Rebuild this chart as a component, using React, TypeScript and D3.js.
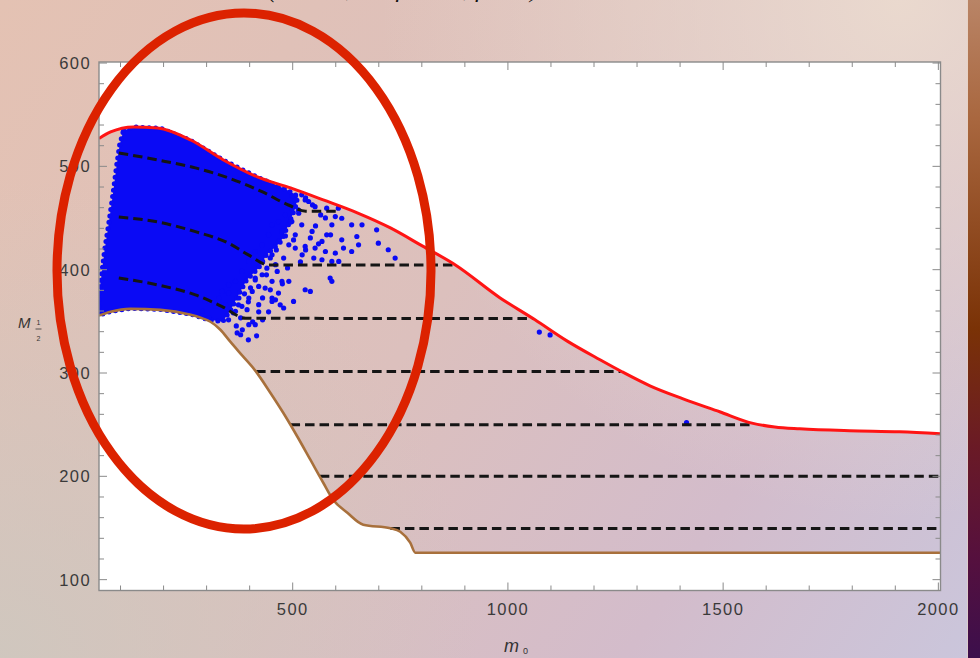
import React from "react";
import * as d3 from "d3";

const WIDTH = 980;
const HEIGHT = 658;

// axis ticks
const xTickLabels = [500, 1000, 1500, 2000];
const yTickLabels = [100, 200, 300, 400, 500, 600];

// upper edge of the allowed (m0, M1/2) region
const upperBoundary: [number, number][] = [
  [50, 527], [77, 533.3], [130, 538.2], [186, 537.1], [263, 525.5], [339, 506.2],
  [418, 489.8], [495, 479.1], [571, 467.5], [650, 455], [727, 440.4], [801, 423],
  [878, 404.6], [982, 372.7], [1063, 351.5], [1137, 331.1], [1214, 312.8],
  [1265, 301.2], [1330, 287.6], [1407, 275], [1492, 262.5], [1567, 251.5],
  [1620, 247.8], [1678, 246], [1794, 244.1], [1910, 243.1], [2005, 241.2],
];

// lower edge of the allowed region
const lowerBoundary: [number, number][] = [
  [50, 355.5], [77, 359.2], [123, 362.1], [193, 361.1], [263, 356.3], [286, 353.5],
  [309, 349.6], [332, 341.9], [355, 330.3], [383, 316.8], [413, 302.3], [448, 280.9],
  [478, 261.5], [511, 238.3], [541, 216.1], [571, 193.8], [594, 177.4], [627, 164.8],
  [664, 153.2], [727, 149.8], [750, 146.4], [773, 135.8], [785, 126], [800, 126],
  [2005, 126],
];

// curved contours in the low-m0 corner
const contourTop: [number, number][] = [
  [96, 513], [186, 506.2], [274, 498.5], [351, 488.8], [430, 475.2], [490, 462.6],
  [530, 456.6], [570, 456.6], [606, 456.6],
];
const contourMid: [number, number][] = [
  [96, 451], [186, 446.2], [274, 436.8], [351, 425.6], [397, 414.3], [444, 404.6],
  [877, 404.6],
];
const contourLow: [number, number][] = [
  [96, 392], [186, 385.3], [274, 375.6], [336, 364.3], [391, 353], [1058, 352.7],
];

// straight contours
const flatLevels = [301.5, 250, 200, 149.5];
const flatStarts = [415, 495, 563, 727];
const flatEnds = [1262, 1568, 2005, 2005];

// densely populated part of the scan
const denseCore: [number, number][] = [
  [107, 535], [135, 538], [193, 537], [263, 525], [339, 506], [418, 489.5], [483, 478],
  [512, 471], [506, 459.8], [490, 443.3], [472, 426.9], [439, 414.3], [421, 401.7],
  [393, 390.1], [374, 375.6], [356, 361.1], [337, 349.5], [300, 352], [263, 357],
  [193, 361.5], [123, 362.5], [77, 359.5], [50, 356], [50, 376], [56, 395], [63, 419],
  [72, 443], [82, 472], [91, 501], [98, 521],
];

// individual scan points outside the dense core
const scanX = [
  529, 552, 579, 606, 599, 614, 637, 661, 695, 722, 699, 649, 653, 637, 614, 591, 579,
  568, 545, 521, 506, 529, 552, 576, 599, 618, 591, 607, 568, 549, 522, 506, 491, 475,
  498, 467, 479, 460, 452, 440, 464, 429, 413, 452, 475, 491, 467, 452, 436, 421, 406,
  398, 375, 382, 367, 394, 421, 452, 479, 502, 529, 541, 587, 591, 413, 371, 398, 738,
  290, 305, 320, 328, 344, 351, 297, 521, 537, 506, 498, 514, 483, 467, 452, 444, 429,
  413, 398, 382, 367, 351, 336,
  499, 513, 495, 483, 502, 462, 448, 430, 439, 413, 402, 388, 397, 374, 362, 379, 351,
  369, 383, 407, 421, 430, 448, 460, 476, 488, 518, 530, 541, 553, 565, 530, 546, 576,
  560, 588, 430, 444, 471, 416, 397, 379,
  1073, 1098, 1415,
];
const scanY = [
  467.5, 461, 459.5, 459.5, 451.4, 449.8, 443.4, 443.4, 438.6, 419.3, 425.7, 432.1,
  424.1, 417.6, 428.9, 443.4, 433.7, 427.3, 437, 443.4, 433.7, 422.5, 420.9, 417.6, 416,
  420.9, 408, 408, 409.6, 411.2, 414.4, 420.9, 424.1, 437, 446.6, 427.3, 411.2, 404.8,
  414.4, 401.5, 398.3, 395.1, 391.9, 388.7, 388.7, 388.7, 377.4, 372.6, 382.2, 383.8,
  379, 372.6, 372.6, 364.5, 359.7, 361.3, 366.1, 369.3, 362.9, 369.3, 380.6, 379, 391.9,
  388.7, 346.8, 338.8, 346.8, 411.2, 359.7, 353.2, 364.5, 372.6, 366, 377.4, 369.3,
  472.4, 466, 467.5, 459.5, 454.7, 453, 446.6, 443.4, 433.7, 424, 417.6, 408, 398.3,
  388.7, 385.4, 379,
  471.4, 457.8, 446.2, 432.7, 428.8, 419.1, 411.4, 407.5, 395, 390.1, 382.4, 376.6,
  368.9, 366, 358.2, 353.4, 351.5, 345.6, 341.8, 349.5, 359.2, 372.7, 380.5, 370.8,
  386.3, 401.7, 407.5, 419.1, 430.7, 442.3, 453, 469.4, 462.7, 450.1, 425, 433.7,
  351.5, 359.2, 366, 336, 332.1, 337,
  339.6, 336.9, 252.1,
];

const FRAME = { left: 99, right: 940.5, top: 62, bottom: 590.5 };

const x = d3.scaleLinear().domain([50, 2005]).range([FRAME.left, FRAME.right]);
const y = d3.scaleLinear().domain([89.5, 601]).range([FRAME.bottom, FRAME.top]);

const smooth = d3
  .line<[number, number]>()
  .x((d) => x(d[0]))
  .y((d) => y(d[1]))
  .curve(d3.curveMonotoneX);
const closedOutline = d3
  .line<[number, number]>()
  .x((d) => x(d[0]))
  .y((d) => y(d[1]))
  .curve(d3.curveLinearClosed);

// area between a boundary curve and the bottom of the frame
function areaBelow(pts: [number, number][]) {
  const first = pts[0];
  const last = pts[pts.length - 1];
  return (
    (smooth(pts) as string) +
    `L${x(last[0])},${FRAME.bottom + 2}L${x(first[0])},${FRAME.bottom + 2}Z`
  );
}

const xMinor = d3.range(100, 2001, 100);
const yMinor = d3.range(100, 601, 20);

function Background() {
  return (
    <g>
      <rect x={0} y={0} width={WIDTH} height={HEIGHT} fill="url(#bgBase)" />
      <rect x={0} y={0} width={WIDTH} height={HEIGHT} fill="url(#bgLight)" />
      <rect x={0} y={0} width={WIDTH} height={HEIGHT} fill="url(#bgGrey)" />
    </g>
  );
}

export default function App() {
  const tickColor = "#8a8a8a";
  const labelFont = "'Liberation Sans', Arial, sans-serif";
  const blue = "#0a0af5";
  const corePath = closedOutline(denseCore) as string;
  return (
    <svg
      width={WIDTH}
      height={HEIGHT}
      viewBox={`0 0 ${WIDTH} ${HEIGHT}`}
      style={{ position: "absolute", left: 0, top: 0, display: "block" }}
    >
      <defs>
        <linearGradient id="bgBase" gradientUnits="userSpaceOnUse" x1={0} y1={0} x2={980} y2={658}>
          <stop offset="0" stopColor="#e4c2b3" />
          <stop offset="0.45" stopColor="#dcc0bd" />
          <stop offset="0.75" stopColor="#d3bccb" />
          <stop offset="1" stopColor="#cac6dc" />
        </linearGradient>
        <radialGradient id="bgLight" gradientUnits="userSpaceOnUse" cx={900} cy={0} r={520}>
          <stop offset="0" stopColor="#ecdccf" stopOpacity={0.9} />
          <stop offset="1" stopColor="#ecdccf" stopOpacity={0} />
        </radialGradient>
        <radialGradient id="bgGrey" gradientUnits="userSpaceOnUse" cx={0} cy={658} r={480}>
          <stop offset="0" stopColor="#cdc8bf" stopOpacity={0.85} />
          <stop offset="1" stopColor="#cdc8bf" stopOpacity={0} />
        </radialGradient>
        <linearGradient id="sideBar" x1={0} y1={0} x2={0} y2={1}>
          <stop offset="0" stopColor="#b98466" />
          <stop offset="0.18" stopColor="#a9673f" />
          <stop offset="0.5" stopColor="#7a3206" />
          <stop offset="0.68" stopColor="#6a1a26" />
          <stop offset="0.85" stopColor="#55103e" />
          <stop offset="1" stopColor="#3c0f4c" />
        </linearGradient>
        <clipPath id="plotClip">
          <rect
            x={FRAME.left}
            y={FRAME.top}
            width={FRAME.right - FRAME.left}
            height={FRAME.bottom - FRAME.top}
          />
        </clipPath>
        <clipPath id="belowUpper">
          <path d={areaBelow(upperBoundary)} />
        </clipPath>
      </defs>

      <Background />
      <rect x={968} y={0} width={12} height={HEIGHT} fill="url(#sideBar)" />
      <rect x={967} y={0} width={1} height={HEIGHT} fill="#e8d2c2" opacity={0.6} />

      {/* title line, running off the top of the slide */}
      <text
        x={403}
        y={-3}
        textAnchor="middle"
        fontFamily="'Liberation Serif', serif"
        fontStyle="italic"
        fontSize={25}
        fill="#111"
      >
        (A0 = 0, tan β = 10, μ &gt; 0)
      </text>

      {/* plot area: white outside the allowed band */}
      <rect
        x={FRAME.left}
        y={FRAME.top}
        width={FRAME.right - FRAME.left}
        height={FRAME.bottom - FRAME.top}
        fill="#ffffff"
      />
      <g clipPath="url(#plotClip)">
        <g clipPath="url(#belowUpper)">
          <Background />
        </g>
        <path d={areaBelow(lowerBoundary)} fill="#ffffff" />

        {/* scan points: dense core with a dotted rim, then the sparse points */}
        <path d={corePath} fill={blue} />
        <path
          d={corePath}
          fill="none"
          stroke={blue}
          strokeWidth={5}
          strokeLinecap="round"
          strokeDasharray="0 6.5"
        />
        {scanX.map((v, i) => (
          <circle key={i} cx={x(v)} cy={y(scanY[i])} r={2.6} fill={blue} />
        ))}

        {/* contours */}
        <g fill="none" stroke="#151515" strokeWidth={3} strokeDasharray="9.5 5">
          <path d={smooth(contourTop) as string} />
          <path d={smooth(contourMid) as string} />
          <path d={smooth(contourLow) as string} />
          {flatLevels.map((lv, i) => (
            <line key={lv} x1={x(flatStarts[i])} x2={x(flatEnds[i])} y1={y(lv)} y2={y(lv)} />
          ))}
        </g>

        <path d={smooth(upperBoundary) as string} fill="none" stroke="#ff1414" strokeWidth={3} />
        <path d={smooth(lowerBoundary) as string} fill="none" stroke="#a8703c" strokeWidth={2.6} />
      </g>

      {/* frame and ticks */}
      <rect
        x={FRAME.left}
        y={FRAME.top}
        width={FRAME.right - FRAME.left}
        height={FRAME.bottom - FRAME.top}
        fill="none"
        stroke={tickColor}
        strokeWidth={1.4}
      />
      <g stroke={tickColor} strokeWidth={1}>
        {xMinor.map((v) => {
          const len = v % 500 === 0 ? 8 : 5;
          return (
            <g key={"x" + v}>
              <line x1={x(v)} x2={x(v)} y1={FRAME.bottom} y2={FRAME.bottom - len} />
              <line x1={x(v)} x2={x(v)} y1={FRAME.top} y2={FRAME.top + len} />
            </g>
          );
        })}
        {yMinor.map((v) => {
          const len = v % 100 === 0 ? 8 : 5;
          return (
            <g key={"y" + v}>
              <line x1={FRAME.left} x2={FRAME.left + len} y1={y(v)} y2={y(v)} />
              <line x1={FRAME.right} x2={FRAME.right - len} y1={y(v)} y2={y(v)} />
            </g>
          );
        })}
      </g>
      <g fontFamily={labelFont} fontSize={16.5} fill="#3a3a3a" letterSpacing={1.4}>
        {xTickLabels.map((v) => (
          <text key={v} x={x(v)} y={615} textAnchor="middle">
            {v}
          </text>
        ))}
        {yTickLabels.map((v) => (
          <text key={v} x={91} y={y(v) + 6} textAnchor="end">
            {v}
          </text>
        ))}
      </g>

      {/* axis titles */}
      <g fontFamily={labelFont} fill="#333" fontStyle="italic">
        <text x={18} y={328} fontSize={15}>
          M
        </text>
        <text x={38.5} y={324.5} fontSize={7} textAnchor="middle" fontStyle="normal">
          1
        </text>
        <line x1={35.5} x2={41.5} y1={329} y2={329} stroke="#333" strokeWidth={0.8} />
        <text x={38.5} y={341} fontSize={7} textAnchor="middle" fontStyle="normal">
          2
        </text>
        <text x={504} y={652} fontSize={18}>
          m
        </text>
        <text x={523} y={654} fontSize={9} fontStyle="normal">
          0
        </text>
      </g>

      {/* highlighted low-m0 corner */}
      <ellipse cx={244} cy={271} rx={187} ry={258} fill="none" stroke="#dc2200" strokeWidth={9} />
    </svg>
  );
}
